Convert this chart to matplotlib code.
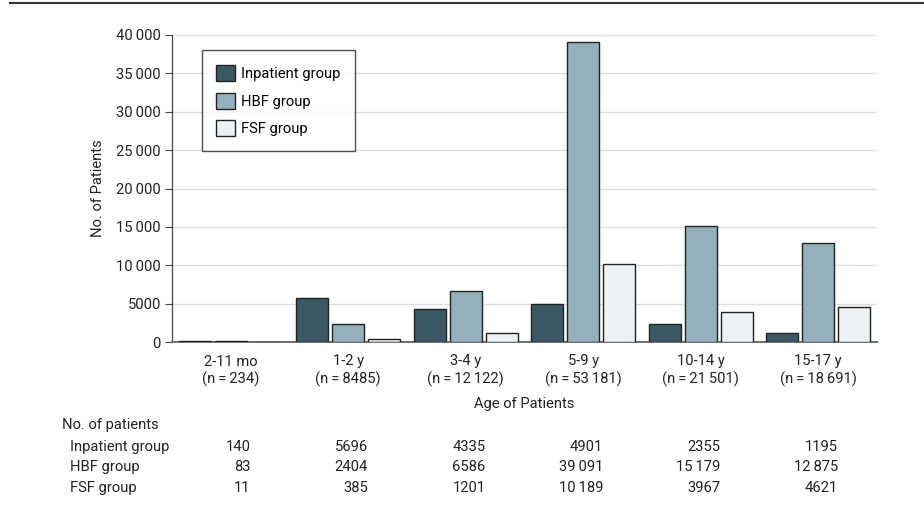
import matplotlib
matplotlib.use("Agg")
import matplotlib.pyplot as plt
from matplotlib.patches import Patch
from matplotlib.lines import Line2D
import matplotlib.transforms as mtransforms

plt.rcParams['font.family'] = ["Roboto", "DejaVu Sans"]

categories = ["2-11 mo", "1-2 y", "3-4 y", "5-9 y", "10-14 y", "15-17 y"]
totals = [234, 8485, 12122, 53181, 21501, 18691]
series_names = ["Inpatient group", "HBF group", "FSF group"]
inpatient = [140, 5696, 4335, 4901, 2355, 1195]
hbf = [83, 2404, 6586, 39091, 15179, 12875]
fsf = [11, 385, 1201, 10189, 3967, 4621]
yticks = [0, 5000, 10000, 15000, 20000, 25000, 30000, 35000, 40000]

colors = ["#3a5965", "#93b0bc", "#edf1f4"]
FS = 10.6


def fmt(v):
    s = f"{v:,}"
    if v >= 10000:
        return s.replace(",", "\u2009")
    return s.replace(",", "")


fig = plt.figure(figsize=(9.24, 5.16), dpi=100)
ax = fig.add_axes([172 / 924, 1 - 342 / 516, (877 - 172) / 924, (342 - 35) / 516])

series = [inpatient, hbf, fsf]
offsets = [-0.306, 0.0, 0.306]
width = 0.272
x = list(range(len(categories)))
for s, off, c, name in zip(series, offsets, colors, series_names):
    ax.bar([xi + off for xi in x], s, width=width, color=c, edgecolor="#222222",
           linewidth=1.0, label=name, zorder=3)

ax.set_xlim(-0.5, len(categories) - 0.5)
ax.set_ylim(0, 40000)
ax.set_yticks(yticks)
ax.set_yticklabels([fmt(v) for v in yticks], fontsize=FS, color="#222222")
ax.yaxis.grid(True, color="#dedede", linewidth=1.0, zorder=0)
ax.set_axisbelow(True)
ax.tick_params(axis="y", length=5, width=0.8, color="#444444", pad=3)
ax.tick_params(axis="x", length=0, pad=9)
ax.set_xticks(x)
ax.set_xticklabels([f"{c}\n(n\u2009=\u2009{fmt(t)})" for c, t in zip(categories, totals)],
                   fontsize=FS, color="#222222", linespacing=1.3)
for sp in ["top", "right"]:
    ax.spines[sp].set_visible(False)
ax.spines["left"].set_color("#444444")
ax.spines["left"].set_linewidth(0.9)
ax.spines["bottom"].set_color("#6f6f6f")
ax.spines["bottom"].set_linewidth(1.4)
ax.set_ylabel("No. of Patients", fontsize=FS, color="#222222", labelpad=8)
ax.set_xlabel("Age of Patients", fontsize=FS, color="#222222", labelpad=7)

handles = [Patch(facecolor=c, edgecolor="#222222", linewidth=1.0) for c in colors]
leg = ax.legend(handles, series_names, loc="upper left", bbox_to_anchor=(0.042, 0.95),
                fontsize=FS, frameon=True, fancybox=False, edgecolor="#222222",
                handlelength=1.3, handleheight=1.3, handletextpad=0.4,
                labelspacing=0.78, borderpad=1.0, borderaxespad=0)
leg.get_frame().set_linewidth(1.0)

# Top rule
fig.add_artist(Line2D([10 / 924, 1.0], [1 - 3 / 516, 1 - 3 / 516], color="#333333",
                      linewidth=1.5, transform=fig.transFigure))

# Table below
trans = mtransforms.blended_transform_factory(ax.transData, fig.transFigure)
fig.text(62 / 924, 1 - 425 / 516, "No. of patients", fontsize=FS, color="#222222", va="center")
row_y = [447, 467, 488]
for name, s, yy in zip(series_names, series, row_y):
    fig.text(70 / 924, 1 - yy / 516, name, fontsize=FS, color="#222222", va="center")
    for xi, v in zip(x, s):
        ax.text(xi + 0.17, 1 - yy / 516, fmt(v), transform=trans, ha="right", va="center",
                fontsize=FS, color="#222222")

fig.savefig("out.png", dpi=100)
